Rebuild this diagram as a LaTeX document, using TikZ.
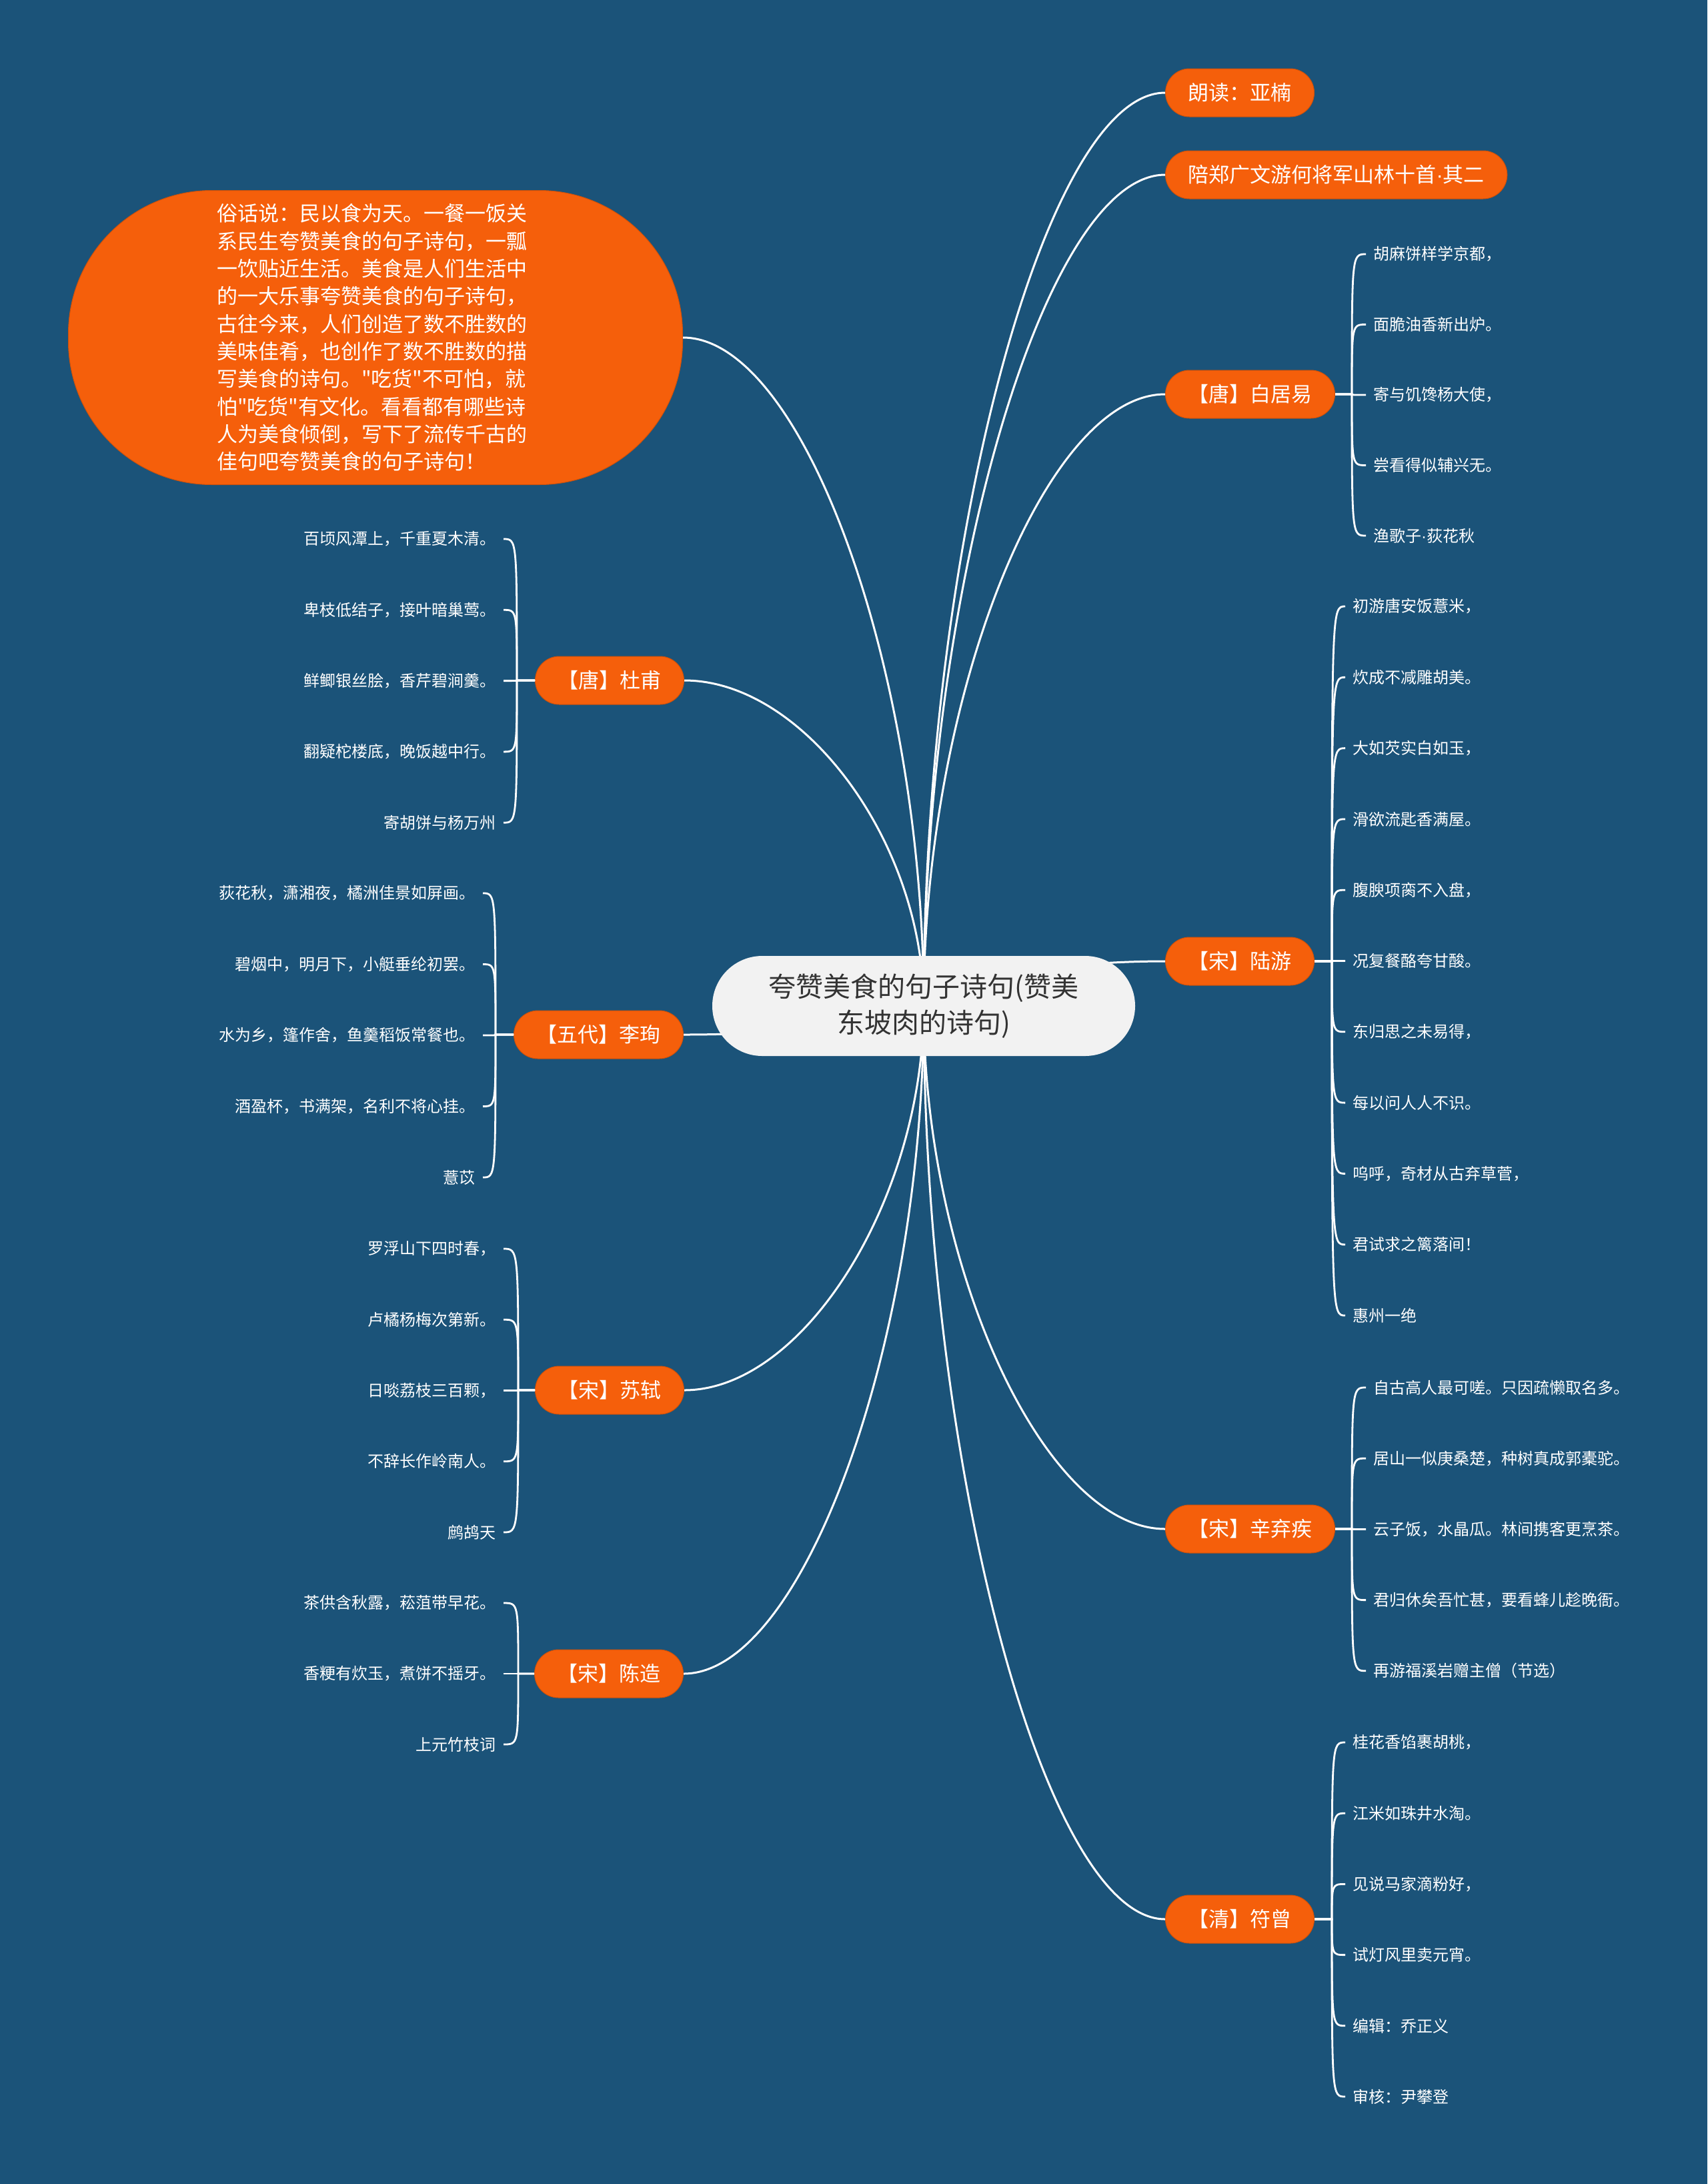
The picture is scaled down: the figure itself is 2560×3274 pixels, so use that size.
\documentclass[tikz,border=0pt]{standalone}
\usepackage{fontspec}
\newfontfamily\cjk{Noto Sans CJK SC}
\newfontfamily\lat{Liberation Sans}
\usetikzlibrary{calc}
\definecolor{latar}{HTML}{1B5379}
\definecolor{jingga}{HTML}{F55F0B}
\definecolor{akar}{HTML}{F2F2F2}
\definecolor{tulisan}{HTML}{333333}
\begin{document}
\begin{tikzpicture}[x=1pt, y=-1pt,
  topic/.style={fill=jingga, draw=jingga!85!black, line width=1pt, rounded corners=36pt,
    minimum height=72pt, inner xsep=34pt, inner ysep=0pt, text=white,
    font=\cjk\fontsize{31}{37}\selectfont},
  leaf/.style={text=white, inner xsep=11pt, inner ysep=2pt, font=\cjk\fontsize{24}{29}\selectfont},
  branch/.style={draw=white, line width=3pt},
  twig/.style={draw=white, line width=2.8pt}]
  \fill[latar] (0,0) rectangle (2560,3274);
  \coordinate (r) at (1385,1508);
  % cabang kanan
  \node[topic, anchor=west] (langdu) at (1747,139) {朗读：亚楠};
  \node[topic, anchor=west] (peizheng) at (1747,262) {陪郑广文游何将军山林十首{\lat ·}其二};
  \node[topic, anchor=west] (baijuyi) at (1747,591) {【唐】白居易};
  \node[topic, anchor=west] (luyou) at (1747,1441) {【宋】陆游};
  \node[topic, anchor=west] (xinqiji) at (1747,2292) {【宋】辛弃疾};
  \node[topic, anchor=west] (fuzeng) at (1747,2877) {【清】符曾};
  % cabang kiri
  \node[topic, anchor=east, rounded corners=215pt, minimum width=921pt, minimum height=441pt,
    text width=476pt, align=left, font=\cjk\fontsize{31}{41.3}\selectfont] (miaoshu) at (1024,506)
    {俗话说：民以食为天。一餐一饭关\\系民生夸赞美食的句子诗句，一瓢\\一饮贴近生活。美食是人们生活中\\的一大乐事夸赞美食的句子诗句，\\古往今来，人们创造了数不胜数的\\美味佳肴，也创作了数不胜数的描\\写美食的诗句。"吃货"不可怕，就\\怕"吃货"有文化。看看都有哪些诗\\人为美食倾倒，写下了流传千古的\\佳句吧夸赞美食的句子诗句！};
  \node[topic, anchor=east] (dufu) at (1026,1020) {【唐】杜甫};
  \node[topic, anchor=east] (lixun) at (1025,1551) {【五代】李珣};
  \node[topic, anchor=east] (sushi) at (1026,2084) {【宋】苏轼};
  \node[topic, anchor=east] (chenzao) at (1025,2509) {【宋】陈造};
  % garis dari pusat
  \foreach \n in {langdu,peizheng,baijuyi,luyou,xinqiji,fuzeng} {
    \coordinate (m) at ($(r)!0.5!(\n.west)$);
    \draw[branch] (r) .. controls (r |- m) and (m |- \n.west) .. (\n.west);
  }
  \foreach \n in {miaoshu,dufu,lixun,sushi,chenzao} {
    \coordinate (m) at ($(r)!0.5!(\n.east)$);
    \draw[branch] (r) .. controls (r |- m) and (m |- \n.east) .. (\n.east);
  }
  \node[fill=akar, text=tulisan, rounded corners=75pt, minimum width=634pt, minimum height=150pt,
    align=center, font=\cjk\fontsize{41}{54}\selectfont] (root) at (r)
    {夸赞美食的句子诗句(赞美\\东坡肉的诗句)};
  % 白居易
  \foreach \t [count=\i] in {胡麻饼样学京都，,面脆油香新出炉。,寄与饥馋杨大使，,尝看得似辅兴无。,渔歌子{\lat ·}荻花秋}
    \node[leaf, anchor=west] (bj\i) at (2048,{381+105.5*(\i-1)}) {\t};
  \coordinate (bjj) at (2027,591);
  \foreach \i in {1,...,5}
    \draw[twig] (baijuyi.east) -- (bjj) .. controls (bjj |- bj\i.west) and (bjj |- bj\i.west) .. (bj\i.west);
  % 陆游
  \foreach \t [count=\i] in {初游唐安饭薏米，,炊成不减雕胡美。,大如芡实白如玉，,滑欲流匙香满屋。,腹腴项脔不入盘，,况复餐酪夸甘酸。,东归思之未易得，,每以问人人不识。,呜呼，奇材从古弃草菅，,君试求之篱落间！,惠州一绝}
    \node[leaf, anchor=west] (ly\i) at (2017,{909+106.3*(\i-1)}) {\t};
  \coordinate (lyj) at (1997,1441);
  \foreach \i in {1,...,11}
    \draw[twig] (luyou.east) -- (lyj) .. controls (lyj |- ly\i.west) and (lyj |- ly\i.west) .. (ly\i.west);
  % 辛弃疾
  \foreach \t [count=\i] in {自古高人最可嗟。只因疏懒取名多。,居山一似庚桑楚，种树真成郭橐驼。,云子饭，水晶瓜。林间携客更烹茶。,君归休矣吾忙甚，要看蜂儿趁晚衙。,再游福溪岩赠主僧（节选）}
    \node[leaf, anchor=west] (xq\i) at (2048,{2080+106.2*(\i-1)}) {\t};
  \coordinate (xqj) at (2027,2292);
  \foreach \i in {1,...,5}
    \draw[twig] (xinqiji.east) -- (xqj) .. controls (xqj |- xq\i.west) and (xqj |- xq\i.west) .. (xq\i.west);
  % 符曾
  \foreach \t [count=\i] in {桂花香馅裹胡桃，,江米如珠井水淘。,见说马家滴粉好，,试灯风里卖元宵。,编辑：乔正义,审核：尹攀登}
    \node[leaf, anchor=west] (fz\i) at (2017,{2612+106.2*(\i-1)}) {\t};
  \coordinate (fzj) at (1997,2877);
  \foreach \i in {1,...,6}
    \draw[twig] (fuzeng.east) -- (fzj) .. controls (fzj |- fz\i.west) and (fzj |- fz\i.west) .. (fz\i.west);
  % 杜甫
  \foreach \t [count=\i] in {百顷风潭上，千重夏木清。,卑枝低结子，接叶暗巢莺。,鲜鲫银丝脍，香芹碧涧羹。,翻疑柁楼底，晚饭越中行。,寄胡饼与杨万州}
    \node[leaf, anchor=east] (df\i) at (755,{808+106.3*(\i-1)}) {\t};
  \coordinate (dfj) at (775,1020);
  \foreach \i in {1,...,5}
    \draw[twig] (dufu.west) -- (dfj) .. controls (dfj |- df\i.east) and (dfj |- df\i.east) .. (df\i.east);
  % 李珣
  \foreach \t [count=\i] in {荻花秋，潇湘夜，橘洲佳景如屏画。,碧烟中，明月下，小艇垂纶初罢。,水为乡，篷作舍，鱼羹稻饭常餐也。,酒盈杯，书满架，名利不将心挂。,薏苡}
    \node[leaf, anchor=east] (lx\i) at (724,{1339+106.5*(\i-1)}) {\t};
  \coordinate (lxj) at (743,1551);
  \foreach \i in {1,...,5}
    \draw[twig] (lixun.west) -- (lxj) .. controls (lxj |- lx\i.east) and (lxj |- lx\i.east) .. (lx\i.east);
  % 苏轼
  \foreach \t [count=\i] in {罗浮山下四时春，,卢橘杨梅次第新。,日啖荔枝三百颗，,不辞长作岭南人。,鹧鸪天}
    \node[leaf, anchor=east] (ss\i) at (755,{1872+106.25*(\i-1)}) {\t};
  \coordinate (ssj) at (777,2084);
  \foreach \i in {1,...,5}
    \draw[twig] (sushi.west) -- (ssj) .. controls (ssj |- ss\i.east) and (ssj |- ss\i.east) .. (ss\i.east);
  % 陈造
  \foreach \t [count=\i] in {茶供含秋露，菘菹带早花。,香粳有炊玉，煮饼不摇牙。,上元竹枝词}
    \node[leaf, anchor=east] (cz\i) at (755,{2403+106*(\i-1)}) {\t};
  \coordinate (czj) at (777,2509);
  \foreach \i in {1,...,3}
    \draw[twig] (chenzao.west) -- (czj) .. controls (czj |- cz\i.east) and (czj |- cz\i.east) .. (cz\i.east);
\end{tikzpicture}
\end{document}
